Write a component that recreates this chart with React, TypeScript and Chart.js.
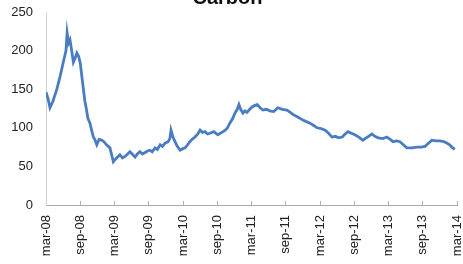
import React, { useEffect, useRef } from "react";
import { Chart, registerables } from "chart.js";

Chart.register(...registerables);

const chartTitle = "Carbon";
const tickLabels = ["mar-08", "sep-08", "mar-09", "sep-09", "mar-10", "sep-10", "mar-11", "sep-11", "mar-12", "sep-12", "mar-13", "sep-13", "mar-14"];
// months since March 2008
const months = [0, 0.35, 0.7, 1.2, 1.9, 2.45, 3.0, 3.5, 3.7, 3.95, 4.2, 4.5, 4.8, 5.1, 5.4, 5.7, 6.0, 6.5, 6.8, 7.1, 7.35, 7.7, 8.05, 8.3, 8.6, 8.9, 9.3, 9.75, 10.15, 10.6, 11.2, 11.8, 12.25, 12.95, 13.4, 13.85, 14.3, 14.7, 15.1, 15.6, 16.0, 16.45, 16.9, 17.35, 17.8, 18.2, 18.6, 19.1, 19.5, 20.0, 20.4, 20.85, 21.4, 21.7, 21.9, 22.25, 22.6, 23.0, 23.5, 24.0, 24.35, 24.8, 25.2, 25.6, 26.1, 26.6, 27.0, 27.4, 27.85, 28.3, 28.7, 29.4, 30.1, 30.8, 31.4, 31.8, 32.2, 32.7, 33.1, 33.5, 33.8, 34.1, 34.5, 34.85, 35.2, 35.7, 36.1, 36.6, 37.0, 37.5, 38.0, 38.6, 39.2, 39.9, 40.6, 41.4, 42.2, 42.8, 43.3, 44.1, 45.0, 45.6, 46.25, 46.9, 47.5, 48.2, 48.9, 49.5, 50.1, 50.7, 51.2, 51.9, 52.4, 52.9, 53.5, 54.1, 54.8, 55.5, 56.3, 57.1, 57.6, 58.2, 59.0, 59.7, 60.3, 60.8, 61.4, 62.0, 62.6, 63.2, 64.1, 65.0, 65.7, 66.4, 67.0, 67.6, 68.3, 69.0, 69.7, 70.3, 70.7, 71.1, 71.6, 72.0];
const prices = [146, 138, 126, 134, 150, 166, 184, 200, 223, 210, 214, 200, 185, 190, 197, 193, 184, 153, 135, 123, 112, 106, 95, 88, 84, 78, 85, 84, 82, 78, 74, 56, 60, 65, 61, 63, 66, 69, 66, 62, 66, 69, 66, 68, 70, 71, 69, 74, 72, 78, 76, 80, 82, 86, 97, 88, 82, 76, 71, 73, 74, 78, 82, 85, 88, 92, 97, 94, 95, 92, 93, 95, 91, 94, 97, 100, 106, 112, 119, 124, 130, 124, 119, 122, 120, 124, 127, 129, 130, 126, 123, 124, 122, 121, 126, 124, 123, 120, 117, 114, 110, 108, 106, 103, 100, 99, 97, 93, 88, 89, 87, 88, 92, 95, 93, 91, 88, 84, 88, 92, 89, 87, 86, 88, 85, 82, 83, 82, 78, 74, 74, 75, 75, 76, 80, 84, 83, 83, 82, 80, 78, 75, 72];

const titlePlugin = {
  id: "cornerTitle",
  afterDraw(chart: any) {
    const ctx = chart.ctx;
    const area = chart.chartArea;
    ctx.save();
    ctx.font = "bold 20px 'Liberation Sans', Arial, sans-serif";
    ctx.fillStyle = "#111";
    ctx.textAlign = "center";
    ctx.textBaseline = "alphabetic";
    ctx.fillText(chartTitle, (area.left + area.right) / 2 - 24, 4);
    ctx.restore();
  },
};

export default function App() {
  const ref = useRef<HTMLCanvasElement>(null);
  useEffect(() => {
    document.body.style.margin = "0";
    const data = months.map((m, i) => ({ x: m, y: prices[i] }));
    const chart = new Chart(ref.current!, {
      type: "line",
      data: {
        datasets: [
          {
            data,
            borderColor: "#4a7cc2",
            borderWidth: 2.8,
            pointRadius: 0,
            tension: 0,
            fill: false,
          },
        ],
      },
      options: {
        animation: false,
        responsive: false,
        maintainAspectRatio: false,
        layout: { padding: { top: 12, right: 6, left: 0, bottom: 0 } },
        plugins: { legend: { display: false }, title: { display: false }, tooltip: { enabled: false } },
        scales: {
          x: {
            type: "linear",
            min: 0,
            max: 72,
            afterFit: (s: any) => {
              s.height = 59;
              s.paddingLeft = 0;
              s.paddingRight = 0;
            },
            afterBuildTicks: (s: any) => {
              s.ticks = tickLabels.map((_, i) => ({ value: i * 6 }));
            },
            ticks: {
              autoSkip: false,
              maxRotation: 90,
              minRotation: 90,
              padding: 14,
              color: "#222",
              font: { family: "'Liberation Sans', Arial, sans-serif", size: 13 },
              callback: (v: any) => tickLabels[Math.round(Number(v) / 6)] ?? "",
            },
            grid: { display: true, drawOnChartArea: false, drawTicks: true, tickLength: -4, color: "#b0b0b0" },
            border: { display: true, color: "#a8a8a8", width: 1 },
          },
          y: {
            min: 0,
            max: 250,
            afterFit: (s: any) => {
              s.width = 46;
              s.paddingTop = 0;
              s.paddingBottom = 0;
            },
            ticks: {
              stepSize: 50,
              padding: 13,
              color: "#222",
              font: { family: "'Liberation Sans', Arial, sans-serif", size: 13 },
            },
            grid: { display: false, drawTicks: false },
            border: { display: true, color: "#d0d0d0", width: 1 },
          },
        },
      },
      plugins: [titlePlugin],
    });
    return () => chart.destroy();
  }, []);
  return (
    <div style={{ position: "absolute", left: 0, top: 0, width: 463, height: 264, background: "#fff" }}>
      <canvas ref={ref} width={463} height={264} style={{ display: "block" }} />
    </div>
  );
}
